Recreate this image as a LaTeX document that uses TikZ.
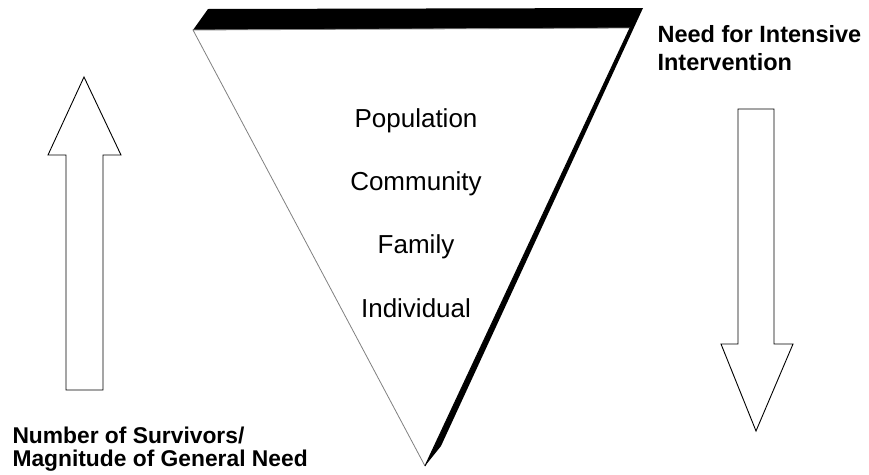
\documentclass[tikz,border=0pt]{standalone}
\usepackage{fontspec}
\setmainfont{Liberation Sans}
\begin{document}
\begin{tikzpicture}[x=1pt,y=-1pt,
  level/.style={font=\fontsize{26}{30}\selectfont, anchor=base},
  caption/.style={font=\bfseries\fontsize{23.5}{28}\selectfont, anchor=base west},
  smallcaption/.style={caption, font=\bfseries\fontsize{22.8}{27}\selectfont},
  blockarrow/.style={draw=black, line width=0.9pt, fill=white, line join=miter}]
\useasboundingbox (0,0) rectangle (869,474);
% extruded edge of the inverted triangle
\fill[black] (193,30) -- (208,9) -- (643,8) -- (441,446) -- (425,466) -- (630,28) -- cycle;
% triangle face
\fill[white] (193,30) -- (630,28) -- (425,466) -- cycle;
\draw[gray, line width=0.8pt] (630,28) -- (193,30) -- (425,466);
\draw[black, line width=1pt] (630,28) -- (425,466);
% levels
\node[level] (pop) at (416,127) {Population};
\node[level] (com) at (416,190) {Community};
\node[level] (fam) at (416,253) {Family};
\node[level] (ind) at (416,317) {Individual};
% upward block arrow
\draw[blockarrow] (84,77) -- (121,155) -- (103,155) -- (103,390) -- (66,390) -- (66,155) -- (48,155) -- cycle;
% downward block arrow
\draw[blockarrow] (738,109) -- (774,109) -- (774,344) -- (793,344) -- (756,431) -- (721,344) -- (738,344) -- cycle;
% captions
\node[caption] (need1) at (654,42) {Need for Intensive};
\node[caption] (need2) at (654,70) {Intervention};
\node[smallcaption] (num1) at (9,443) {Number of Survivors/};
\node[smallcaption] (num2) at (9,466) {Magnitude of General Need};
\end{tikzpicture}
\end{document}
